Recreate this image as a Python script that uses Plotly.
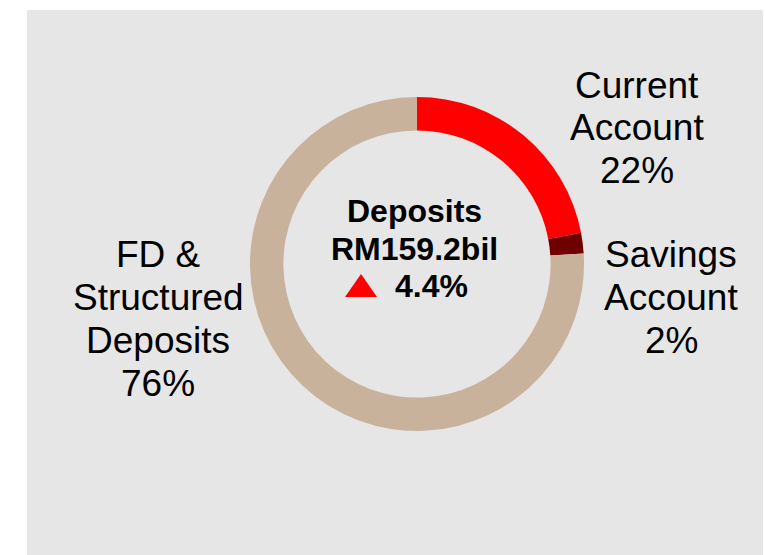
import plotly.graph_objects as go

# ---- data ----
labels = ["Current Account", "Savings Account", "FD & Structured Deposits"]
label_lines = [["Current", "Account"], ["Savings", "Account"], ["FD &", "Structured", "Deposits"]]
values = [22, 2, 76]
colors = ["#FF0000", "#6E0000", "#C9B29B"]
center_title = "Deposits"
center_total = "RM159.2bil"
center_growth = "4.4%"

W, H = 765, 555


def px(x):
    return x / W


def py(y):
    return (H - y) / H


# donut geometry (screen pixels)
cx, cy, r = 417, 264, 167

fig = go.Figure()
fig.add_trace(go.Pie(
    labels=labels,
    values=values,
    hole=0.80,
    sort=False,
    direction="clockwise",
    rotation=0,
    marker=dict(colors=colors, line=dict(width=0)),
    textinfo="none",
    hoverinfo="label+percent",
    showlegend=False,
    domain=dict(x=[px(cx - r), px(cx + r)], y=[py(cy + r), py(cy - r)]),
))

annotations = []
font_lbl = dict(family="Liberation Sans, Arial, sans-serif", size=37, color="#000000")
label_pos = [(637, 86), (671, 255), (158, 255)]
pitch = 43
for lines, v, (x0, y0) in zip(label_lines, values, label_pos):
    all_lines = lines + [f"{v}%"]
    for i, t in enumerate(all_lines):
        annotations.append(dict(
            x=px(x0), y=py(y0 + i * pitch - 1), xref="paper", yref="paper",
            text=t, showarrow=False, xanchor="center", yanchor="middle",
            font=font_lbl,
        ))

font_c = dict(family="Liberation Sans, Arial, sans-serif", size=32, color="#000000")
annotations.append(dict(x=px(415), y=py(211), xref="paper", yref="paper",
                        text=f"<b>{center_title}</b>", showarrow=False,
                        xanchor="center", yanchor="middle", font=font_c))
annotations.append(dict(x=px(415), y=py(249), xref="paper", yref="paper",
                        text=f"<b>{center_total}</b>", showarrow=False,
                        xanchor="center", yanchor="middle", font=font_c))
annotations.append(dict(x=px(431), y=py(286), xref="paper", yref="paper",
                        text=f"<b>{center_growth}</b>", showarrow=False,
                        xanchor="center", yanchor="middle", font=font_c))

# up-arrow indicator icon next to the growth figure
tri = f"M {px(345)} {py(297)} L {px(377)} {py(297)} L {px(361)} {py(274)} Z"

fig.update_layout(
    width=W, height=H,
    margin=dict(l=0, r=0, t=0, b=0),
    paper_bgcolor="#FFFFFF",
    plot_bgcolor="#FFFFFF",
    shapes=[
        dict(type="rect", xref="paper", yref="paper",
             x0=px(27), x1=px(763), y0=0, y1=py(10),
             fillcolor="#E6E6E6", line=dict(width=0), layer="below"),
        dict(type="path", xref="paper", yref="paper", path=tri,
             fillcolor="#FF0000", line=dict(width=0), layer="above"),
    ],
    annotations=annotations,
)

fig.write_html("out.html",
               config={"displayModeBar": False},
               post_script="document.body.style.margin='0';document.body.style.overflow='hidden';")
